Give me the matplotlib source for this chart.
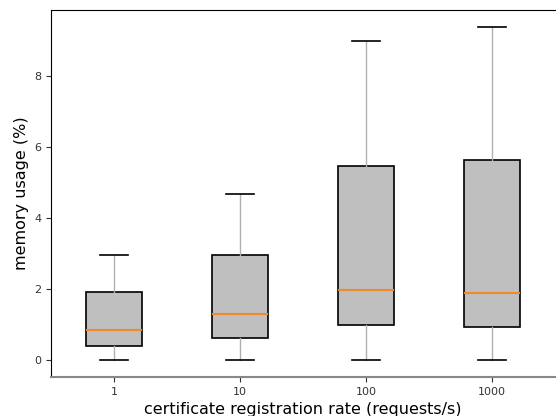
import matplotlib
matplotlib.use("Agg")
import matplotlib.pyplot as plt

categories = ["1", "10", "100", "1000"]
whislo = [0.0, 0.0, 0.0, 0.0]
q1 = [0.40, 0.63, 0.99, 0.94]
med = [0.85, 1.30, 1.99, 1.90]
q3 = [1.92, 2.98, 5.48, 5.63]
whishi = [2.98, 4.69, 9.0, 9.38]

stats = [dict(label=c, whislo=a, q1=b, med=m, q3=d, whishi=e, fliers=[])
         for c, a, b, m, d, e in zip(categories, whislo, q1, med, q3, whishi)]

fig = plt.figure(figsize=(5.56, 4.16), dpi=100)
ax = fig.add_axes([51/556, 1-377/416, (555-51)/556, (377-10)/416])
ax.bxp(stats, widths=0.45, showfliers=False, patch_artist=True,
       boxprops=dict(facecolor="#bfbfbf", edgecolor="black", linewidth=1.2),
       whiskerprops=dict(color="#b0b0b0", linewidth=1.0),
       capprops=dict(color="black", linewidth=1.2),
       medianprops=dict(color="#f0892a", linewidth=1.5))
ax.set_xlim(0.5, 4.5)
ax.set_ylim(-0.47, 9.87)
ax.set_yticks([0, 2, 4, 6, 8])
ax.tick_params(labelsize=8, colors="#333333")
ax.spines["right"].set_visible(False)
ax.spines["bottom"].set_color("#888888")
ax.spines["bottom"].set_linewidth(1.5)
ax.set_xlabel("certificate registration rate (requests/s)", fontsize=11.5, labelpad=4)
ax.set_ylabel("memory usage (%)", fontsize=11.5)
fig.savefig("out.png", dpi=100)
